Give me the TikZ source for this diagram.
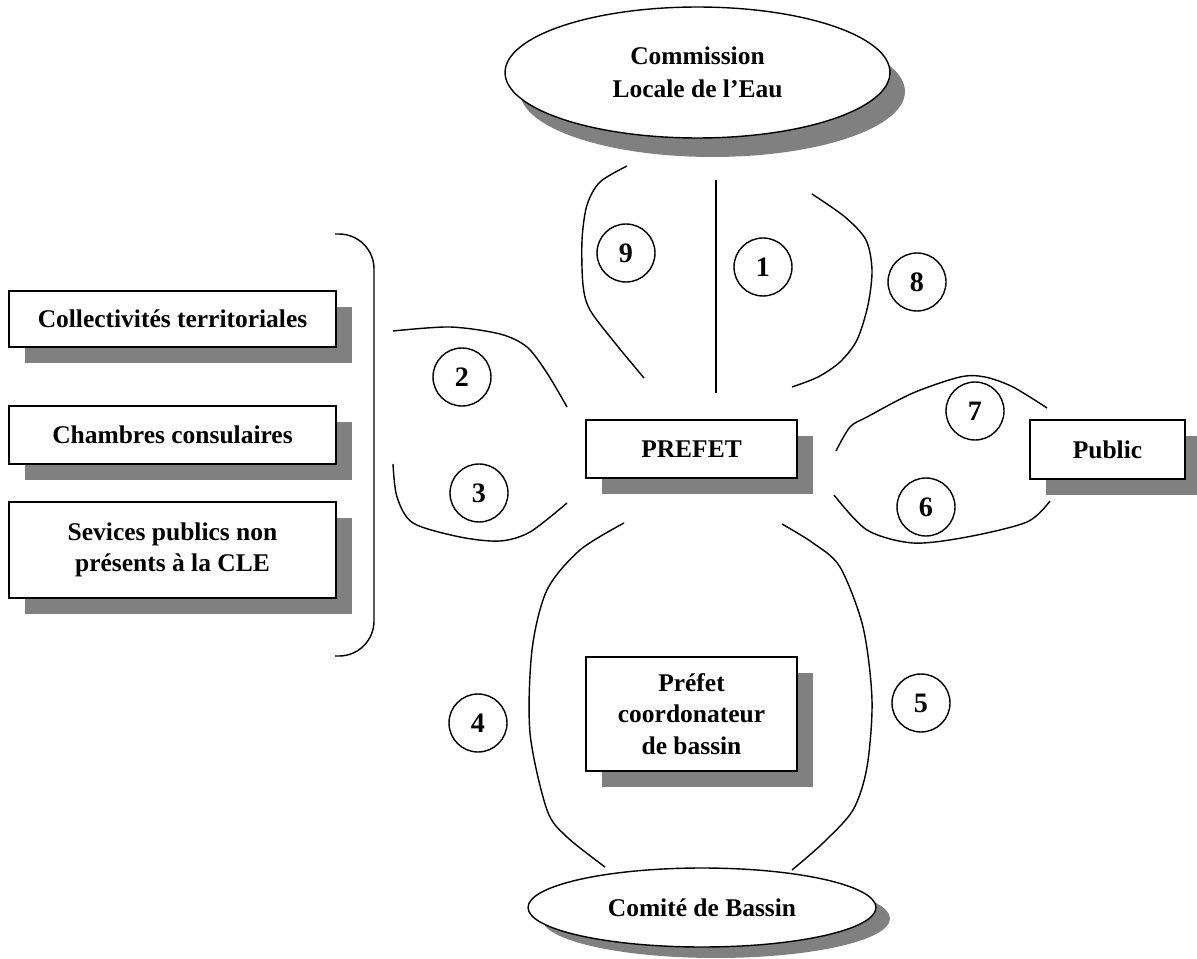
\documentclass[tikz,border=0pt]{standalone}
\usepackage{fontspec}
\setmainfont{Liberation Serif}
\usetikzlibrary{shapes.geometric,shadows}

\tikzset{
  box/.style={shape=rectangle,draw=black,fill=white,align=center,line width=0.8pt,inner sep=0pt,
    drop shadow={shadow xshift=0.32cm,shadow yshift=-0.32cm,fill=gray,opacity=1},
    font=\fontsize{14.5}{18}\selectfont\bfseries},
  oval/.style={shape=ellipse,draw=black,fill=white,align=center,line width=0.8pt,inner sep=0pt,
    font=\fontsize{14.5}{18.5}\selectfont\bfseries},
  num/.style={shape=circle,draw=black,line width=0.8pt,inner sep=0pt,minimum size=1.16cm,
    font=\fontsize{16}{18}\selectfont\bfseries},
  flow/.style={draw=black,line width=0.8pt}
}

\begin{document}
\begin{tikzpicture}[x=0.02cm,y=-0.02cm]
\useasboundingbox (0,0) rectangle (1197,959);

\node[oval,minimum width=7.7cm,minimum height=2.62cm,
  drop shadow={shadow xshift=0.3cm,shadow yshift=-0.38cm,fill=gray,opacity=1}] (cle) at (697.5,72.5) {Commission\\Locale de l’Eau};
\node[box,minimum width=6.54cm,minimum height=1.12cm] (coll) at (172.5,319) {Collectivités territoriales};
\node[box,minimum width=6.54cm,minimum height=1.16cm] (chamb) at (172.5,435) {Chambres consulaires};
\node[box,minimum width=6.54cm,minimum height=1.92cm] (serv) at (172.5,550) {Sevices publics non\\présents à la CLE};
\node[box,minimum width=4.22cm,minimum height=1.16cm] (prefet) at (691.5,449) {PREFET};
\node[box,minimum width=3.1cm,minimum height=1.18cm] (public) at (1107.5,449.5) {Public};
\node[box,minimum width=4.22cm,minimum height=2.28cm] (coord) at (691.5,714) {Préfet\\coordonateur\\de bassin};
\node[oval,minimum width=6.96cm,minimum height=1.58cm,
  drop shadow={shadow xshift=0.28cm,shadow yshift=-0.22cm,fill=gray,opacity=1}] (cb) at (702,907.5) {Comité de Bassin};

\node[num] (n1) at (763,267) {1};
\node[num] (n2) at (462,377) {2};
\node[num] (n3) at (479,493) {3};
\node[num] (n4) at (478,723) {4};
\node[num] (n5) at (921,703) {5};
\node[num] (n6) at (926,507) {6};
\node[num] (n7) at (975,411) {7};
\node[num] (n8) at (917,282) {8};
\node[num] (n9) at (626,253) {9};

% accolade
\path [flow,rounded corners=0.7cm] (335,234) -- (374,234) -- (374,656) -- (335,656);

% liaisons
\path [flow] (716,180) -- (716,393);
\path [flow] plot[smooth] coordinates {(627,166) (600,182) (587,205) (582,240) (583,285) (590,310) (615,343) (644,378)};
\path [flow] plot[smooth] coordinates {(812,194) (845,217) (866,240) (872,270) (868,305) (857,340) (840,362) (818,377) (792,387)};
\path [flow] plot[smooth] coordinates {(393,331) (450,327) (500,334) (527,347) (547,373) (567,407)};
\path [flow] plot[smooth] coordinates {(393,464) (397,497) (413,523) (460,537) (500,541) (530,532) (567,503)};
\path [flow] plot[smooth] coordinates {(836,451) (850,427) (867,417) (913,393) (960,377) (985,377) (1013,387) (1047,408)};
\path [flow] plot[smooth] coordinates {(834,495) (867,530) (913,543) (967,537) (1027,522) (1050,501)};
\path [flow] plot[smooth] coordinates {(624,523) (580,550) (547,590) (532,650) (530,733) (547,810) (567,837) (605,867)};
\path [flow] plot[smooth] coordinates {(782,524) (813,543) (840,567) (863,627) (872,700) (867,767) (853,810) (823,843) (792,870)};
\end{tikzpicture}
\end{document}
